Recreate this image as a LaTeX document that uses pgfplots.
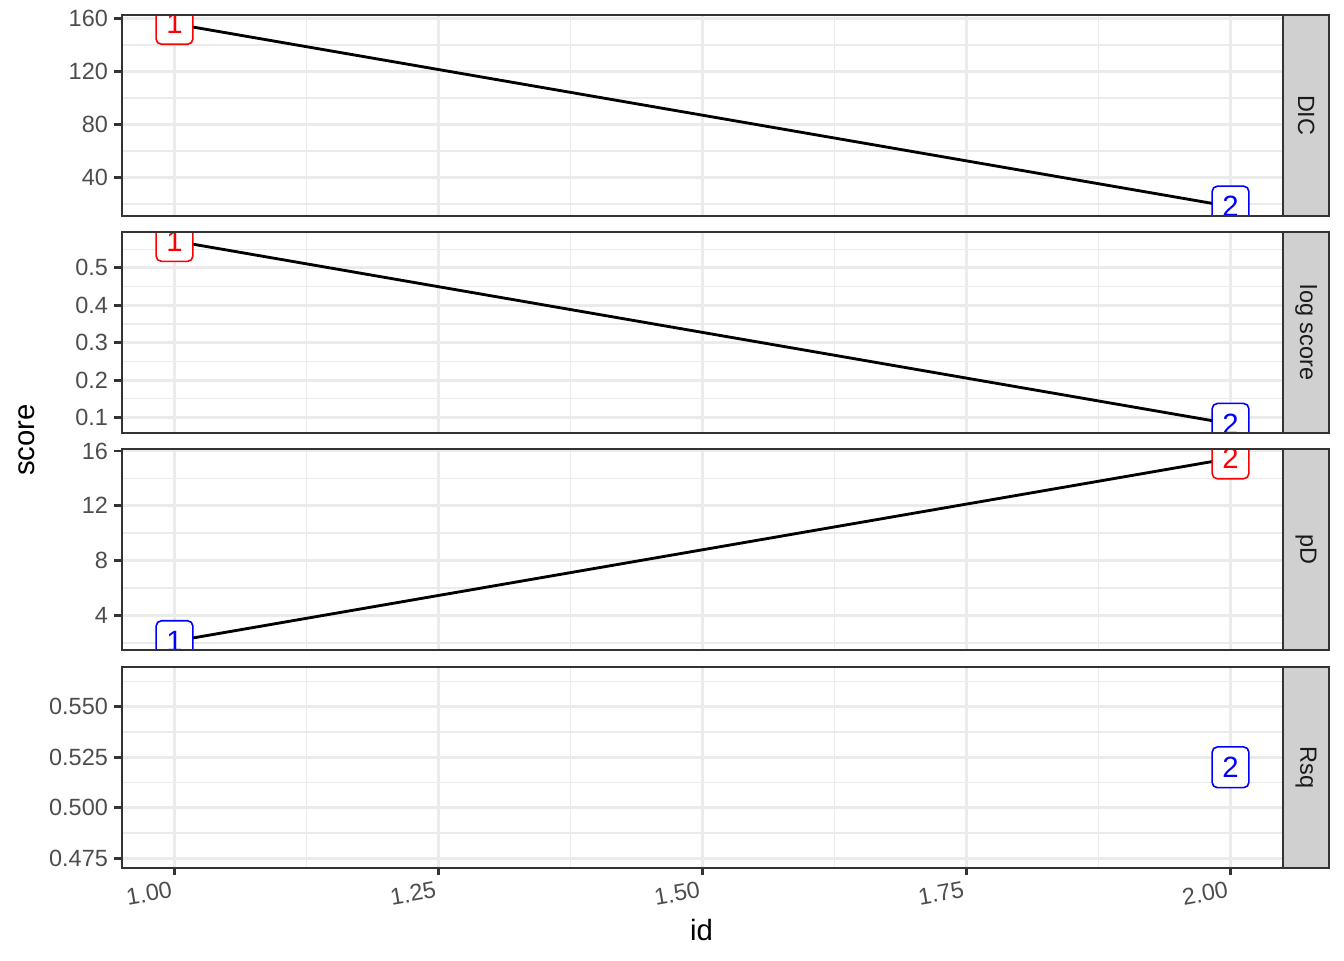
\documentclass[border=0pt]{standalone}
\usepackage{fontspec}
\setmainfont{Liberation Sans}
\usepackage{pgfplots}
\pgfplotsset{compat=1.18}
\definecolor{grey10}{HTML}{1A1A1A}
\definecolor{grey20}{HTML}{333333}
\definecolor{grey30}{HTML}{4D4D4D}
\definecolor{grey92}{HTML}{EBEBEB}
\definecolor{stripgrey}{HTML}{D0D0D0}

\tikzset{
  lab/.style={draw=#1, text=#1, fill=white, rounded corners=2pt, line width=0.6pt,
    minimum width=13.8pt, minimum height=15.3pt, inner sep=0pt,
    font=\fontsize{11}{13}\selectfont, anchor=center},
  striptext/.style={rotate=-90, font=\fontsize{8.8}{10}\selectfont, text=grey10}
}
\pgfplotsset{
  facet/.style={
    scale only axis, width=435.6pt, height=75.375pt, anchor=north west,
    xmin=0.95, xmax=2.05,
    xtick={1,1.25,1.5,1.75,2},
    minor xtick={1.125,1.375,1.625,1.875},
    grid=both,
    major grid style={grey92, line width=1.07pt},
    minor grid style={grey92, line width=0.53pt},
    axis line style={grey20, line width=0.8pt},
    tick align=outside, major tick length=2.75pt, minor tick length=0pt,
    every tick/.style={grey20, line width=1.07pt},
    ytick pos=left, xtick pos=bottom,
    ticklabel style={font=\fontsize{8.8}{10}\selectfont, text=grey30},
    yticklabel style={xshift=1.1pt},
    scaled y ticks=false,
  },
  toprow/.style={xmajorticks=false, xticklabels={}},
  % overlay axis that only carries the clipped labels
  labelaxis/.style={facet, hide axis, grid=none},
  labels/.style={draw=none, mark=none, nodes near coords, point meta=explicit symbolic,
    every node near coord/.append style={lab=#1}},
  dataline/.style={black, line width=1.07pt, mark=none}
}

\begin{document}
\begin{tikzpicture}
\useasboundingbox (0,0) rectangle (504pt,-360pt);

% DIC
\begin{axis}[facet, toprow, name=p1, at={(45.64pt,-5.51pt)},
  ymin=11.2, ymax=162.7, ytick={40,80,120,160}, minor ytick={20,60,100,140},
  yticklabels={40,80,120,160}]
\addplot[dataline] coordinates {(1,155.8) (2,18.1)};
\end{axis}
\begin{scope}
\clip (p1.south west) rectangle (p1.north east);
\begin{axis}[labelaxis, at={(45.64pt,-5.51pt)}, ymin=11.2, ymax=162.7]
\addplot[labels=red] coordinates {(1,155.8) [1]};
\addplot[labels=blue] coordinates {(2,18.1) [2]};
\end{axis}
\end{scope}
\draw[grey20, line width=0.8pt] (p1.south west) rectangle (p1.north east);
\draw[grey20, fill=stripgrey, line width=0.8pt] (p1.north east) rectangle ([xshift=17.1pt]p1.south east);
\node[striptext] at ([xshift=8.55pt]p1.east) {DIC};

% log score
\begin{axis}[facet, toprow, name=p2, at={(45.64pt,-87.0pt)},
  ymin=0.0584, ymax=0.596, ytick={0.1,0.2,0.3,0.4,0.5}, minor ytick={0.15,0.25,0.35,0.45,0.55},
  yticklabels={0.1,0.2,0.3,0.4,0.5}]
\addplot[dataline] coordinates {(1,0.572) (2,0.083)};
\end{axis}
\begin{scope}
\clip (p2.south west) rectangle (p2.north east);
\begin{axis}[labelaxis, at={(45.64pt,-87.0pt)}, ymin=0.0584, ymax=0.596]
\addplot[labels=red] coordinates {(1,0.572) [1]};
\addplot[labels=blue] coordinates {(2,0.083) [2]};
\end{axis}
\end{scope}
\draw[grey20, line width=0.8pt] (p2.south west) rectangle (p2.north east);
\draw[grey20, fill=stripgrey, line width=0.8pt] (p2.north east) rectangle ([xshift=17.1pt]p2.south east);
\node[striptext] at ([xshift=8.55pt]p2.east) {log score};

% pD
\begin{axis}[facet, toprow, name=p3, at={(45.64pt,-168.5pt)},
  ymin=1.449, ymax=16.12, ytick={4,8,12,16}, minor ytick={2,6,10,14},
  yticklabels={4,8,12,16}]
\addplot[dataline] coordinates {(1,2.12) (2,15.46)};
\end{axis}
\begin{scope}
\clip (p3.south west) rectangle (p3.north east);
\begin{axis}[labelaxis, at={(45.64pt,-168.5pt)}, ymin=1.449, ymax=16.12]
\addplot[labels=blue] coordinates {(1,2.12) [1]};
\addplot[labels=red] coordinates {(2,15.46) [2]};
\end{axis}
\end{scope}
\draw[grey20, line width=0.8pt] (p3.south west) rectangle (p3.north east);
\draw[grey20, fill=stripgrey, line width=0.8pt] (p3.north east) rectangle ([xshift=17.1pt]p3.south east);
\node[striptext] at ([xshift=8.55pt]p3.east) {pD};

% Rsq
\begin{axis}[facet, name=p4, at={(45.64pt,-250.0pt)},
  ymin=0.4703, ymax=0.5698, ytick={0.475,0.5,0.525,0.55}, minor ytick={0.4875,0.5125,0.5375,0.5625},
  yticklabels={0.475,0.500,0.525,0.550},
  xticklabels={1.00,1.25,1.50,1.75,2.00},
  xticklabel style={rotate=10, anchor=north east, xshift=1.5pt, yshift=1.5pt}]
\addplot[labels=blue] coordinates {(2,0.52) [2]};
\end{axis}
\draw[grey20, line width=0.8pt] (p4.south west) rectangle (p4.north east);
\draw[grey20, fill=stripgrey, line width=0.8pt] (p4.north east) rectangle ([xshift=17.1pt]p4.south east);
\node[striptext] at ([xshift=8.55pt]p4.east) {Rsq};

% axis titles
\node[rotate=90, font=\fontsize{11}{13}\selectfont] at (10.0pt,-165.0pt) {score};
\node[font=\fontsize{11}{13}\selectfont] at (263.1pt,-348.75pt) {id};
\end{tikzpicture}
\end{document}
